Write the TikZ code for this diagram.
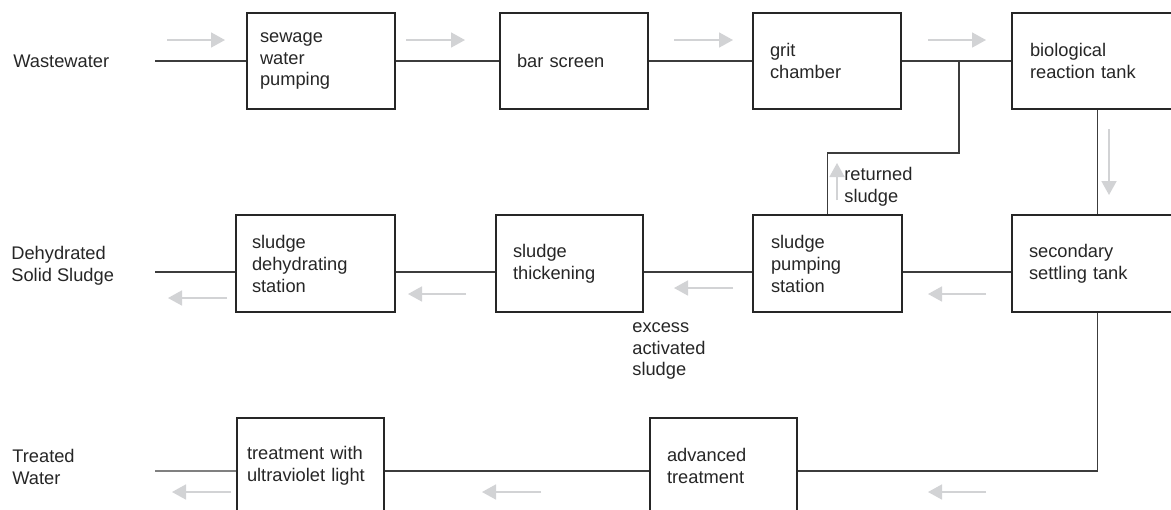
\documentclass[tikz,border=0pt]{standalone}
\usepackage{fontspec}
\setmainfont{Liberation Sans}
\usepackage{tikz}
\usetikzlibrary{calc,positioning,arrows.meta}
\definecolor{boxgray}{HTML}{262626}
\definecolor{pipegray}{HTML}{3C3C3C}
\definecolor{flowgray}{HTML}{D2D3D5}
\newcommand{\plantfont}{\fontsize{10.4}{12.5}\selectfont}
\tikzstyle{stage} = [draw=boxgray, line width=1.1pt, minimum height=1.92cm, inner xsep=0.34cm, inner ysep=0pt, align=left, text=boxgray, font=\plantfont]
\tikzstyle{lbl}   = [anchor=west, inner sep=0pt, align=left, text=boxgray, font=\plantfont]
\tikzstyle{pipe}  = [draw=pipegray, line width=0.6pt]
\tikzstyle{flow}  = [draw=flowgray, line width=1pt, -{Triangle[length=0.28cm,width=0.30cm]}]

\begin{document}
\begin{tikzpicture}
        \useasboundingbox (0,0) rectangle (23.42,-10.18);
        \clip (0,0) rectangle (23.42,-10.18);

        \node[stage, text width=2.44cm, inner xsep=0.26cm] (pump) at (6.42,-1.22) {sewage\\water\\pumping};
        \node[stage, text width=2.28cm] (bar) at (11.48,-1.22) {bar screen};
        \node[stage, text width=2.28cm] (grit) at (16.54,-1.22) {grit\\chamber};
        \node[stage, text width=2.70cm, inner xsep=0.36cm] (bio) at (21.95,-1.22) {biological\\reaction tank};

        \node[stage, text width=2.54cm, inner xsep=0.32cm, minimum height=1.94cm] (dehyd) at (6.31,-5.27) {sludge\\dehydrating\\station};
        \node[stage, text width=2.26cm, minimum height=1.94cm] (thick) at (11.39,-5.27) {sludge\\thickening};
        \node[stage, text width=2.26cm, inner xsep=0.36cm, minimum height=1.94cm] (pumpst) at (16.55,-5.27) {sludge\\pumping\\station};
        \node[stage, text width=2.74cm, minimum height=1.94cm] (settle) at (21.95,-5.27) {secondary\\settling tank};

        \node[stage, text width=2.54cm, inner xsep=0.20cm] (uv) at (6.21,-9.32) {treatment with\\ultraviolet light};
        \node[stage, text width=2.26cm] (adv) at (14.47,-9.32) {advanced\\treatment};

        \node[lbl] (inlbl) at (0.26,-1.22) {Wastewater};
        \node[lbl] (sludgelbl) at (0.22,-5.32) {Dehydrated\\Solid Sludge};
        \node[lbl] (waterlbl) at (0.24,-9.34) {Treated\\Water};
        \node[lbl] (retlbl) at (16.88,-3.74) {returned\\sludge};
        \node[lbl] (excesslbl) at (12.64,-7.02) {excess\\activated\\sludge};

        \coordinate (in) at (3.1,-1.22);
        \coordinate (junc) at (19.18,-1.22);
        \coordinate (retturn) at (19.18,-3.06);
        \coordinate (out2) at (3.1,-5.44);
        \coordinate (out3) at (3.1,-9.42);

        \draw[pipe] (in) -- (pump.west);
        \draw[pipe] (pump.east) -- (bar.west);
        \draw[pipe] (bar.east) -- (grit.west);
        \draw[pipe] (grit.east) -- (bio.west);
        \draw[pipe] (pumpst.north) |- (retturn) -- (junc);
        \draw[pipe] (bio.south) -- (settle.north);

        \draw[pipe] ([yshift=-0.17cm]settle.west) -- ([yshift=-0.17cm]pumpst.east);
        \draw[pipe] ([yshift=-0.17cm]pumpst.west) -- ([yshift=-0.17cm]thick.east);
        \draw[pipe] ([yshift=-0.17cm]thick.west) -- ([yshift=-0.17cm]dehyd.east);
        \draw[pipe] ([yshift=-0.17cm]dehyd.west) -- (out2);

        \draw[pipe] (settle.south) |- ([yshift=-0.10cm]adv.east);
        \draw[pipe] ([yshift=-0.10cm]adv.west) -- ([yshift=-0.10cm]uv.east);
        \draw[pipe] ([yshift=-0.10cm]uv.west) -- (out3);

        \foreach \xa/\xb in {3.34/4.50, 8.12/9.30, 13.48/14.66, 18.56/19.72}
            \draw[flow] (\xa,-0.80) -- (\xb,-0.80);
        \foreach \xa/\xb/\y in {4.54/3.36/-5.96, 9.32/8.16/-5.88, 14.66/13.48/-5.76, 19.72/18.56/-5.88,
                                4.62/3.44/-9.84, 10.82/9.64/-9.84, 19.72/18.56/-9.84}
            \draw[flow] (\xa,\y) -- (\xb,\y);
        \draw[flow] (16.74,-4.00) -- (16.74,-3.26);
        \draw[flow] (22.18,-2.58) -- (22.18,-3.90);
\end{tikzpicture}
\end{document}
